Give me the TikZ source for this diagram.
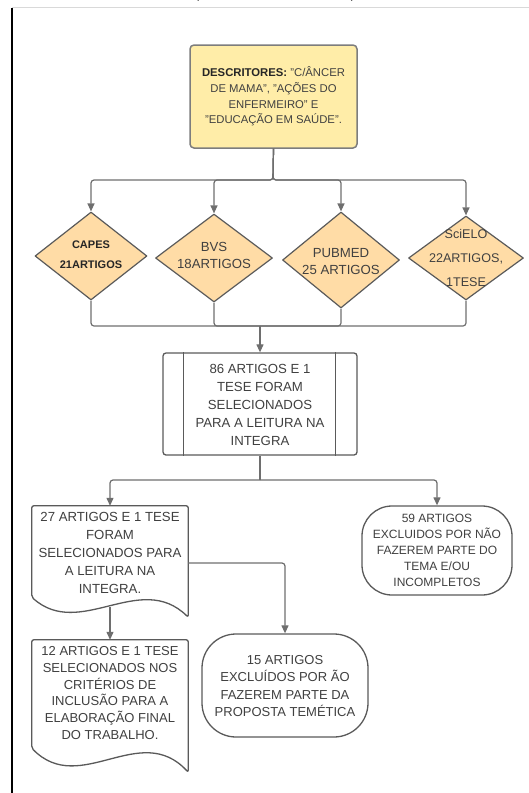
\documentclass[tikz,border=0pt]{standalone}
\usepackage{fontspec}
\setmainfont{Liberation Sans}
\usetikzlibrary{shapes.geometric,arrows.meta,calc}
\definecolor{ln}{HTML}{6E6E6E}
\definecolor{bd}{HTML}{5A5A5A}
\definecolor{tx}{HTML}{404040}
\definecolor{yel}{HTML}{FFEDA8}
\definecolor{org}{HTML}{FFDCA6}
\begin{document}
\begin{tikzpicture}[x=1pt,y=-1pt,line join=round,
  conn/.style={draw=ln,line width=1.2pt,rounded corners=3pt},
  arr/.style={conn,-{Triangle[length=8pt,width=7pt]}},
  shp/.style={draw=bd,line width=1.3pt,fill=white},
  txt/.style={text=tx,align=center,inner sep=0pt,font=\fontsize{13.2}{18}\selectfont},
  dia/.style={diamond,draw=bd,line width=1.2pt,fill=org,inner sep=0pt},
  term/.style={shp,rounded corners=30pt,inner sep=0pt}]
\useasboundingbox (0,0) rectangle (529,793);
\clip (0,0) rectangle (529,793);
% frame fragments
\draw[black!15,line width=0.8pt] (12,7) -- (529,7);
\draw[black,line width=1.4pt] (12,8) -- (12,793);
\node[text=black,font=\fontsize{13}{13}\selectfont] (pl) at (197,-5) {(};
\node[text=black,font=\fontsize{13}{13}\selectfont] (pr) at (353,-5) {)};
% top box
\node[draw=ln!90,fill=yel,line width=1.5pt,rounded corners=4pt,minimum width=167,minimum height=103,
  inner sep=0pt,align=center,text=tx,font=\fontsize{11.3}{15.7}\selectfont] (top) at (273.5,96.5)
  {{\color{black!85}\bfseries DESCRITORES:} "C/ÂNCER\\DE MAMA", "AÇÕES DO\\ENFERMEIRO" E\\"EDUCAÇÃO EM SAÚDE".};
% diamonds
\node[dia,minimum width=112,minimum height=88] (capes) at (91,256) {};
\node[txt,text=black!85,font=\fontsize{11}{20}\selectfont\bfseries] (capest) at (91,255) {CAPES\\21ARTIGOS};
\node[dia,minimum width=117,minimum height=88] (bvs) at (214,258) {};
\node[txt,font=\fontsize{13.2}{17}\selectfont] (bvst) at (214,255) {BVS\\18ARTIGOS};
\node[dia,minimum width=117,minimum height=96] (pubmed) at (341,260) {};
\node[txt,font=\fontsize{13.2}{17}\selectfont] (pubmedt) at (341,262) {PUBMED\\25 ARTIGOS};
\node[dia,minimum width=115,minimum height=84] (scielo) at (466,258) {};
\node[txt,font=\fontsize{12.6}{24}\selectfont] (scielot) at (466,258) {SciELO\\22ARTIGOS,\\1TESE};
% junctions
\coordinate (j1) at (273,180);
\coordinate (j2) at (260,326);
\coordinate (j3) at (260,480);
\foreach \d in {capes,bvs,pubmed,scielo}{
  \draw[arr] (top.south) -- (j1) -| (\d.north);
}
% process box
\node[shp,rounded corners=3pt,minimum width=194,minimum height=102,inner sep=0pt] (b86) at (260,404) {};
\draw[draw=bd,line width=1.2pt] ($(b86.north west)+(21,0)$) -- ($(b86.south west)+(21,0)$);
\draw[draw=bd,line width=1.2pt] ($(b86.north east)+(-22,0)$) -- ($(b86.south east)+(-22,0)$);
\node[txt] (b86t) at (260,405) {86 ARTIGOS E 1\\TESE FORAM\\SELECIONADOS\\PARA A LEITURA NA\\INTEGRA};
\foreach \d in {capes,bvs,pubmed,scielo}{
  \draw[conn] (\d.south) |- (j2);
}
\draw[arr] (j2) -- (b86.north);
% document 1
\node[inner sep=0pt,minimum width=156,minimum height=111] (d27) at (110,561.5) {};
\draw[shp,rounded corners=2pt] (d27.north west) -- (d27.north east) -- (d27.south east)
  .. controls ($(d27.south)+(30,-47)$) and ($(d27.south)+(-30,23)$) .. ($(d27.south west)+(0,-20)$) -- cycle;
\node[txt] (d27t) at (110,553) {27 ARTIGOS E 1 TESE\\FORAM\\SELECIONADOS PARA\\A LEITURA NA\\INTEGRA.};
% terminator 59
\node[term,minimum width=150,minimum height=89] (t59) at (437,550.5) {};
\node[txt,font=\fontsize{12}{16}\selectfont] (t59t) at (437,550) {59 ARTIGOS\\EXCLUIDOS POR NÃO\\FAZEREM PARTE DO\\TEMA E/OU\\INCOMPLETOS};
\draw[conn] (b86.south) -- (j3);
\draw[arr] (j3) -| (d27.north);
\draw[arr] (j3) -| (t59.north);
% document 2
\node[inner sep=0pt,minimum width=156,minimum height=132] (d12) at (110,706) {};
\draw[shp,rounded corners=2pt] (d12.north west) -- (d12.north east) -- (d12.south east)
  .. controls ($(d12.south)+(30,-52)$) and ($(d12.south)+(-30,25)$) .. ($(d12.south west)+(0,-24)$) -- cycle;
\node[txt,font=\fontsize{13}{16.8}\selectfont] (d12t) at (110,693) {12 ARTIGOS E 1 TESE\\SELECIONADOS NOS\\CRITÉRIOS DE\\INCLUSÃO PARA A\\ELABORAÇÃO FINAL\\DO TRABALHO.};
% terminator 15
\node[term,rounded corners=34pt,minimum width=166,minimum height=103] (t15) at (285,685.5) {};
\node[txt,font=\fontsize{13}{17.3}\selectfont] (t15t) at (285,686) {15 ARTIGOS\\EXCLUÍDOS POR ÃO\\FAZEREM PARTE DA\\PROPOSTA TEMÉTICA};
% connectors from document 1
\coordinate (d27b) at ($(d27.south)+(0,-10)$);
\draw[arr] (d27b) -- (d12.north);
\draw[arr] ($(d27.east)+(0,1.5)$) -| (t15.north);
\end{tikzpicture}
\end{document}
